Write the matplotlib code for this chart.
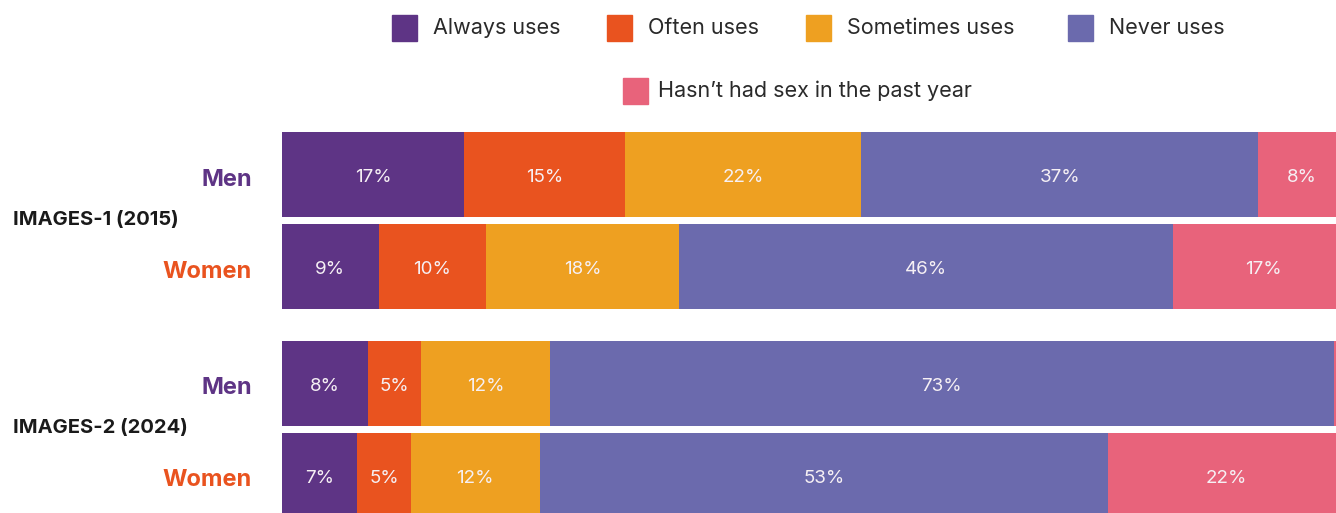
import matplotlib
matplotlib.use("Agg")
import matplotlib.pyplot as plt
from matplotlib.patches import Rectangle

# --- data -------------------------------------------------------------
surveys = ["IMAGES-1 (2015)", "IMAGES-2 (2024)"]
groups = ["Men", "Women"]
categories = ["Always uses", "Often uses", "Sometimes uses", "Never uses",
              "Hasn\u2019t had sex in the past year"]

always_uses = [17, 9, 8, 7]
often_uses = [15, 10, 5, 5]
sometimes_uses = [22, 18, 12, 12]
never_uses = [37, 46, 73, 53]
no_sex_past_year = [8, 17, 2, 22]

series = [always_uses, often_uses, sometimes_uses, never_uses, no_sex_past_year]
colors = ["#5E3485", "#E9531F", "#EEA021", "#6B6AAD", "#E8637B"]
group_colors = {"Men": "#5E3485", "Women": "#E9531F"}

# --- figure -------------------------------------------------------------
W, H = 1336, 513
fig = plt.figure(figsize=(W / 100, H / 100), dpi=100)
plt.rcParams["font.family"] = ["Inter", "DejaVu Sans"]

# axes in pixel-like units: x in percent, y in pixel rows (top-down)
ax_left, ax_right = 282, 282 + 1073
ax_top, ax_bottom = 120, 513
ax = fig.add_axes([ax_left / W, 1 - ax_bottom / H,
                   (ax_right - ax_left) / W, (ax_bottom - ax_top) / H])
ax.set_xlim(0, 100)
ax.set_ylim(ax_bottom, ax_top)
ax.axis("off")

bar_h = 85
row_centers = [174.5, 266.5, 383.5, 475.5]

for ri, yc in enumerate(row_centers):
    left = 0
    for si, vals in enumerate(series):
        v = vals[ri]
        ax.barh(yc, v, left=left, height=bar_h, color=colors[si],
                edgecolor="none")
        if v >= 3:
            ax.text(left + v / 2, yc + 3, f"{v}%", ha="center", va="center",
                    color="#F6F0F4", fontsize=13.5)
        left += v

# row labels and survey labels
for ri, yc in enumerate(row_centers):
    g = groups[ri % 2]
    fig.text(252 / W, 1 - (yc + 5) / H, g, ha="right", va="center",
             fontsize=17, fontweight="bold", color=group_colors[g])

for si, s in enumerate(surveys):
    ymid = (row_centers[2 * si] + row_centers[2 * si + 1]) / 2 - 1
    fig.text(13 / W, 1 - ymid / H, s, ha="left", va="center",
             fontsize=14.5, fontweight="bold", color="#1A1A1A")

# legend
legend_items = [
    (392, 28, 0), (607, 28, 1), (806, 28, 2), (1068, 28, 3), (623, 91, 4),
]
sq = 25
for x, yc, ci in legend_items:
    fig.patches.append(Rectangle((x / W, 1 - (yc + sq / 2) / H), sq / W, sq / H,
                                 transform=fig.transFigure, color=colors[ci]))
    tx = x + sq + (16 if ci != 4 else 10)
    fig.text(tx / W, 1 - yc / H, categories[ci], ha="left", va="center",
             fontsize=15.5, color="#2A2A2A")

fig.savefig("out.png", dpi=100)
